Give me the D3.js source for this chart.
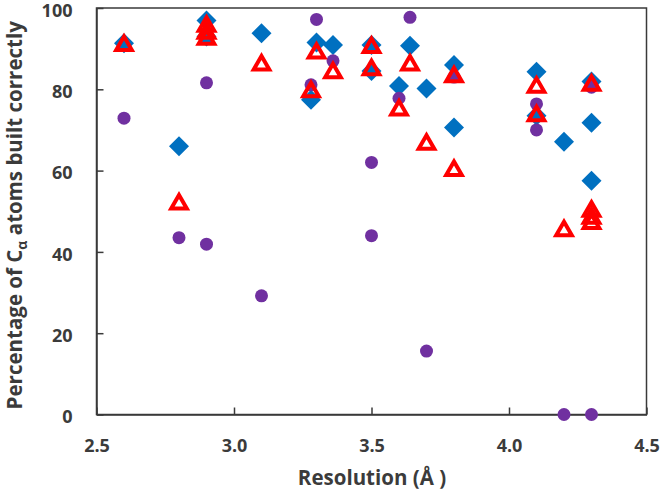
<!DOCTYPE html>
<html>
<head>
<meta charset="utf-8">
<script src="https://cdn.jsdelivr.net/npm/d3@7"></script>
<style>
  html, body { margin: 0; padding: 0; background: #fff; }
  svg { display: block; }
  text { font-family: "Open Sans", "Liberation Sans", sans-serif; font-weight: 700; fill: #3b3b3b; }
</style>
</head>
<body>
<svg id="chart" width="664" height="494"></svg>
<script>
// ---- data ----
const xTicks = [2.5, 3.0, 3.5, 4.0, 4.5];
const yTicks = [0, 20, 40, 60, 80, 100];

const diamondX = [2.6, 2.8, 2.9, 2.9, 3.1, 3.28, 3.3, 3.36, 3.5, 3.5, 3.6, 3.64, 3.7, 3.8, 3.8, 4.1, 4.1, 4.2, 4.3, 4.3, 4.3];
const diamondY = [91.3, 66.0, 96.9, 93.0, 93.8, 77.4, 91.5, 90.9, 90.9, 84.5, 80.8, 90.7, 80.2, 86.0, 70.6, 84.3, 73.5, 67.1, 81.9, 71.8, 57.5];

const circleX = [2.6, 2.8, 2.9, 2.9, 3.1, 3.28, 3.3, 3.36, 3.5, 3.5, 3.6, 3.64, 3.7, 3.8, 4.1, 4.1, 4.2, 4.3, 4.3];
const circleY = [72.9, 43.5, 81.6, 41.9, 29.2, 81.1, 97.2, 87.0, 62.0, 44.0, 77.8, 97.7, 15.6, 83.0, 76.4, 70.0, 0, 0, 80.5];

const triangleX = [2.6, 2.8, 2.9, 2.9, 2.9, 3.1, 3.28, 3.3, 3.36, 3.5, 3.5, 3.6, 3.64, 3.7, 3.8, 3.8, 4.1, 4.1, 4.2, 4.3, 4.3, 4.3, 4.3];
const triangleY = [90.8, 51.8, 95.5, 93.8, 92.3, 86.0, 79.4, 88.9, 84.1, 90.3, 84.8, 74.9, 86.0, 66.5, 83.1, 60.0, 80.5, 73.5, 45.2, 81.0, 50.0, 48.3, 47.0];

const xLabel = "Resolution (Å )";

// ---- layout ----
const svg = d3.select("#chart");
const mLeft = 96.5, mRight = 646.5, mTop = 8, mBottom = 414.5;

const x = d3.scaleLinear().domain([2.5, 4.5]).range([mLeft, mRight]);
const y = d3.scaleLinear().domain([0, 100]).range([mBottom, mTop]);

// frame
svg.append("rect")
  .attr("x", mLeft).attr("y", mTop)
  .attr("width", mRight - mLeft).attr("height", mBottom - mTop)
  .attr("fill", "none").attr("stroke", "#3a3a3a").attr("stroke-width", 1.5);

// axes
const xAxis = d3.axisBottom(x).tickValues(xTicks).tickFormat(d3.format(".1f"))
  .tickSizeInner(-7).tickSizeOuter(0).tickPadding(25);
const yAxis = d3.axisLeft(y).tickValues(yTicks).tickFormat(d3.format("d"))
  .tickSizeInner(-7).tickSizeOuter(0).tickPadding(24);

const gx = svg.append("g").attr("transform", `translate(0,${mBottom})`).call(xAxis);
const gy = svg.append("g").attr("transform", `translate(${mLeft},0)`).call(yAxis);
[gx, gy].forEach(g => {
  g.select(".domain").attr("stroke", "#3a3a3a").attr("stroke-width", 1.5);
  g.selectAll(".tick line").attr("stroke", "#3a3a3a").attr("stroke-width", 1.5);
  g.selectAll(".tick text").attr("font-size", 18).attr("fill", "#3b3b3b")
    .attr("font-family", "'Open Sans', 'Liberation Sans', sans-serif").attr("font-weight", 700);
});
gy.selectAll(".tick text").attr("dy", "0.45em");

// axis titles
svg.append("text")
  .attr("x", 372).attr("y", 485)
  .attr("text-anchor", "middle").attr("font-size", 20.5)
  .text(xLabel);

const yl = svg.append("text")
  .attr("transform", `translate(22,${(mTop + mBottom) / 2 + 4}) rotate(-90)`)
  .attr("text-anchor", "middle").attr("font-size", 20.5);
yl.append("tspan").text("Percentage of C");
yl.append("tspan").attr("font-size", 14).attr("dy", 5).text("α");
yl.append("tspan").attr("dy", -5).text(" atoms built correctly");

// marks
const diamonds = diamondX.map((d, i) => ({x: d, y: diamondY[i]}));
const circles = circleX.map((d, i) => ({x: d, y: circleY[i]}));
const triangles = triangleX.map((d, i) => ({x: d, y: triangleY[i]}));

svg.append("g").selectAll("path").data(diamonds).join("path")
  .attr("d", d3.symbol(d3.symbolSquare, 200)())
  .attr("transform", d => `translate(${x(d.x)},${y(d.y)}) rotate(45)`)
  .attr("fill", "#0070C0");

svg.append("g").selectAll("circle").data(circles).join("circle")
  .attr("cx", d => x(d.x)).attr("cy", d => y(d.y)).attr("r", 6.5)
  .attr("fill", "#7030A0");

svg.append("g").selectAll("path").data(triangles).join("path")
  .attr("d", d3.symbol(d3.symbolTriangle, 105)())
  .attr("transform", d => `translate(${x(d.x)},${y(d.y)})`)
  .attr("fill", "none").attr("stroke", "#FF0000").attr("stroke-width", 4)
  .attr("stroke-linejoin", "miter");
</script>
</body>
</html>
